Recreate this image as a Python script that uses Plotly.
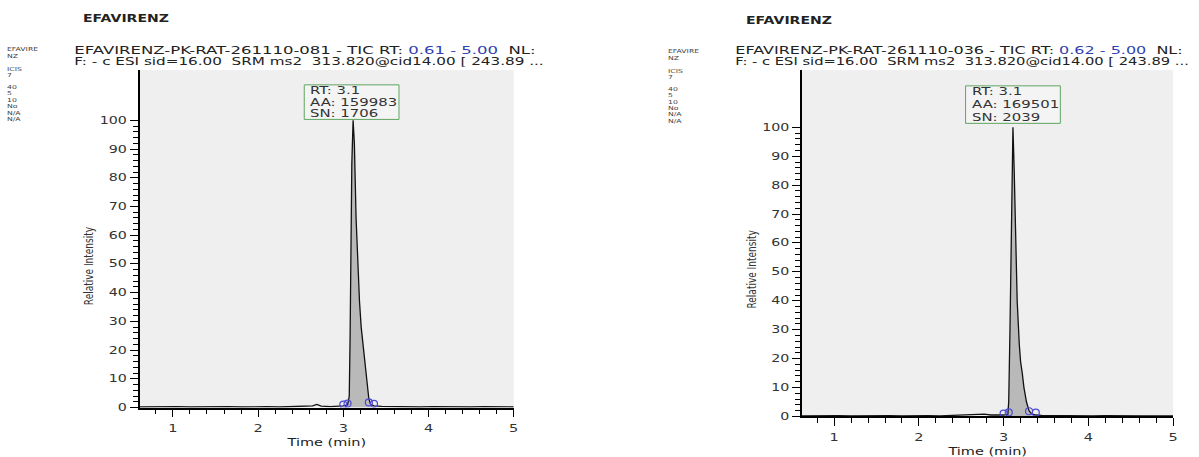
import json
import plotly.graph_objects as go

W, H = 1199, 457

# ---------------- data ----------------
title_text = "EFAVIRENZ"
side_labels = ["EFAVIRE", "NZ", "ICIS", "7", "40", "5", "10", "No", "N/A", "N/A"]

left_header1 = "EFAVIRENZ-PK-RAT-261110-081 - TIC RT: "
left_range_txt = "0.61 - 5.00"
right_header1 = "EFAVIRENZ-PK-RAT-261110-036 - TIC RT: "
right_range_txt = "0.62 - 5.00"
header_tail = "  NL:"
header2 = "F: - c ESI sid=16.00  SRM ms2  313.820@cid14.00 [ 243.89 ..."

left_box = ["RT: 3.1", "AA: 159983", "SN: 1706"]
right_box = ["RT: 3.1", "AA: 169501", "SN: 2039"]

left_time = [0.61, 0.75, 0.90, 1.05, 1.20, 1.35, 1.50, 1.65, 1.80, 1.95, 2.10, 2.25,
             2.40, 2.55, 2.64, 2.69, 2.74, 2.85, 2.95, 3.00, 3.05, 3.07, 3.08, 3.09,
             3.10, 3.115, 3.13, 3.15, 3.17, 3.19, 3.21, 3.24, 3.27, 3.30, 3.32, 3.36,
             3.45, 3.60, 3.75, 3.90, 4.05, 4.20, 4.35, 4.50, 4.65, 4.80, 5.00]
left_int = [0.2, 0.3, 0.2, 0.3, 0.2, 0.3, 0.2, 0.3, 0.2, 0.3, 0.3, 0.2,
            0.3, 0.4, 0.6, 1.1, 0.5, 0.3, 0.4, 0.6, 0.9, 4.0, 25.0, 60.0,
            85.0, 100.0, 92.0, 66.0, 48.0, 37.0, 28.0, 20.0, 11.0, 3.0, 1.2, 0.6,
            0.4, 0.3, 0.3, 0.2, 0.3, 0.2, 0.3, 0.2, 0.3, 0.2, 0.2]
left_peak_start, left_peak_end = 3.05, 3.32
left_marks_t = [3.00, 3.05, 3.30, 3.36]
left_marks_i = [1.0, 1.4, 1.8, 1.3]

right_time = [0.62, 0.75, 0.90, 1.05, 1.20, 1.35, 1.50, 1.65, 1.80, 1.95, 2.10, 2.25,
              2.40, 2.55, 2.70, 2.77, 2.85, 2.95, 3.00, 3.05, 3.06, 3.075, 3.09, 3.11,
              3.125, 3.14, 3.16, 3.185, 3.20, 3.22, 3.24, 3.27, 3.30, 3.33, 3.38,
              3.45, 3.60, 3.75, 3.90, 4.05, 4.20, 4.35, 4.50, 4.65, 4.80, 5.00]
right_int = [0.2, 0.3, 0.2, 0.3, 0.2, 0.3, 0.2, 0.3, 0.2, 0.3, 0.3, 0.2,
             0.3, 0.4, 0.5, 0.8, 0.5, 0.4, 0.5, 0.8, 5.0, 30.0, 70.0, 100.0,
             85.0, 60.0, 40.0, 25.0, 19.0, 15.0, 10.0, 5.0, 2.0, 0.9, 0.5,
             0.4, 0.3, 0.2, 0.3, 0.2, 0.3, 0.2, 0.3, 0.2, 0.2, 0.2]
right_peak_start, right_peak_end = 3.05, 3.33
right_marks_t = [3.00, 3.06, 3.30, 3.38]
right_marks_i = [1.0, 1.4, 1.8, 1.3]

y_ticks = [0, 10, 20, 30, 40, 50, 60, 70, 80, 90, 100]
y_minor = list(range(0, 101, 2))
x_ticks = [1, 2, 3, 4, 5]
x_minor = [round(0.2 * i, 1) for i in range(4, 26)]

# ---------------- figure ----------------
FONT = "DejaVu Sans"
fig = go.Figure()


def px(x):
    return x / W


def py(y):
    return 1 - y / H


def add_panel(t, v, ps, pe, mt, mi, xa, ya):
    seg_t = [a for a in t if ps <= a <= pe]
    seg_v = [b for a, b in zip(t, v) if ps <= a <= pe]
    fig.add_trace(go.Scatter(x=seg_t, y=seg_v, mode="lines", fill="tozeroy",
                             fillcolor="#b9b9b9", line=dict(color="rgba(0,0,0,0)", width=0),
                             xaxis=xa, yaxis=ya, showlegend=False, hoverinfo="skip"))
    fig.add_trace(go.Scatter(x=t, y=v, mode="lines", line=dict(color="#111111", width=1.3),
                             xaxis=xa, yaxis=ya, showlegend=False))
    fig.add_trace(go.Scatter(x=mt, y=mi, mode="markers",
                             marker=dict(symbol="circle-open", size=7, color="#4b4bd6",
                                         line=dict(width=1.2)),
                             xaxis=xa, yaxis=ya, showlegend=False))


add_panel(left_time, left_int, left_peak_start, left_peak_end, left_marks_t, left_marks_i, "x", "y")
add_panel(right_time, right_int, right_peak_start, right_peak_end, right_marks_t, right_marks_i, "x2", "y2")

tickfont = dict(family=FONT, size=10, color="#333")
xcommon = dict(showgrid=False, zeroline=False, showline=True, linecolor="black", linewidth=1.5,
               ticks="outside", ticklen=8, tickwidth=1.3, tickcolor="black",
               tickmode="array", tickvals=x_ticks, tickfont=tickfont, ticklabelstandoff=3,
               minor=dict(tickmode="array", tickvals=x_minor, ticks="outside", ticklen=5,
                          tickwidth=1, tickcolor="black"),
               title=dict(text="Time (min)", font=dict(family=FONT, size=10, color="#222"), standoff=6))
ycommon = dict(showgrid=False, zeroline=False, showline=True, linecolor="black", linewidth=1.5,
               ticks="outside", ticklen=8, tickwidth=1.3, tickcolor="black",
               tickmode="array", tickvals=y_ticks, tickfont=tickfont, ticklabelstandoff=1,
               minor=dict(tickmode="array", tickvals=y_minor, ticks="outside", ticklen=5,
                          tickwidth=1, tickcolor="black"))

fig.update_layout(
    width=W, height=H, margin=dict(l=0, r=0, t=0, b=0),
    paper_bgcolor="white", plot_bgcolor="#efefef",
    xaxis=dict(domain=[px(140), px(515)], range=[0.61, 5.0], anchor="y", **xcommon),
    yaxis=dict(domain=[py(413), py(71)], range=[0, 117.5], anchor="x", **ycommon),
    xaxis2=dict(domain=[px(804), px(1176)], range=[0.62, 5.0], anchor="y2", **xcommon),
    yaxis2=dict(domain=[py(422), py(71)], range=[0, 119.8], anchor="x2", **ycommon),
)

ann = []
stretch = []   # per annotation: [mode, value, anchor]


def text(x, y, s, size, color="#222", bold=False, xanchor="left", angle=0,
         mode="s", val=1.45):
    ann.append(dict(x=px(x), y=py(y), xref="paper", yref="paper", text=s, showarrow=False,
                    xanchor=xanchor, yanchor="middle", textangle=angle, borderpad=0,
                    font=dict(family=FONT, size=size, color=color,
                              weight="bold" if bold else "normal")))
    stretch.append([mode, val, "l" if xanchor == "left" else "c"])


panels = [
    dict(ox=6, tx=82, hx=73, h1=left_header1, rng=left_range_txt, box=left_box,
         bx0=305, bx1=400, by0=86, by1=121, ylx=90, yly=269, dy=0, w1=462, w2=470),
    dict(ox=669, tx=747, hx=736, h1=right_header1, rng=right_range_txt, box=right_box,
         bx0=968, bx1=1063, by0=87, by1=125, ylx=754, yly=273, dy=2, w1=448, w2=454),
]
side_y = [50, 56.5, 70, 76.5, 88, 94.5, 101, 107.5, 114, 120.5]

for p in panels:
    text(p["tx"], 19 + p["dy"], title_text, 10, "#222", bold=True, mode="w", val=86)
    for lab, yy in zip(side_labels, side_y):
        text(p["ox"], yy + p["dy"], lab, 5.5, "#444", mode="s", val=1.4)
    text(p["hx"], 51, p["h1"] + "<span style='color:#3040b0'>" + p["rng"] + "</span>" + header_tail,
         10, "#222", mode="w", val=p["w1"])
    text(p["hx"], 62.5, header2, 10, "#222", mode="w", val=p["w2"])
    fig.add_shape(type="rect", xref="paper", yref="paper", x0=px(p["bx0"]), x1=px(p["bx1"]),
                  y0=py(p["by1"]), y1=py(p["by0"]), line=dict(color="#5fa55f", width=1),
                  fillcolor="rgba(246,246,246,0.7)")
    n = len(p["box"])
    for i, s in enumerate(p["box"]):
        yy = p["by0"] + 6 + i * (p["by1"] - p["by0"] - 12) / (n - 1)
        text(p["bx0"] + 5, yy, s, 10, "#333", mode="s", val=1.49)
    text(p["ylx"], p["yly"], "Relative Intensity", 9, "#333", xanchor="center", angle=-90,
         mode="v", val=1.4)

fig.update_layout(annotations=ann)

# the reference glyphs are horizontally stretched: widen the real SVG text to match
post = """
(function(){
var gd = document.getElementById('{plot_id}');
var CFG = %s;
function baseOf(t){
  var cur = t.getAttribute('transform') || '';
  var mine = t.getAttribute('data-st');
  return (mine !== null && cur === mine) ? (t.getAttribute('data-stb') || '') : cur;
}
function apply(t, s, mode){
  var base = baseOf(t);
  t.setAttribute('transform', base);
  var b = t.getBBox();
  if (!b || b.width === 0) return;
  var tr;
  if (mode === 'v') {
    var ay = b.y + b.height / 2;
    tr = ' translate(0,' + ay + ') scale(1,' + s + ') translate(0,' + (-ay) + ')';
  } else {
    var ax = mode === 'l' ? b.x : (mode === 'r' ? b.x + b.width : b.x + b.width / 2);
    tr = ' translate(' + ax + ',0) scale(' + s + ',1) translate(' + (-ax) + ',0)';
  }
  var nt = (base + tr).trim();
  t.setAttribute('transform', nt);
  t.setAttribute('data-st', nt);
  t.setAttribute('data-stb', base);
}
function run(){
  var anns = gd.querySelectorAll('g.annotation');
  anns.forEach(function(g){
    var i = +g.getAttribute('data-index');
    var c = CFG[i]; if (!c) return;
    var t = g.querySelector('text.annotation-text'); if (!t) return;
    if (c[0] === 'v') { apply(t, c[1], 'v'); return; }
    var s = c[1];
    if (c[0] === 'w') {
      t.setAttribute('transform', baseOf(t));
      t.removeAttribute('data-st');
      var bw = t.getBBox().width;
      s = bw > 0 ? c[1] / bw : 1;
    }
    apply(t, s, c[2]);
  });
  gd.querySelectorAll('g.xtick text').forEach(function(t){ apply(t, 1.45, 'c'); });
  gd.querySelectorAll('g.x2tick text').forEach(function(t){ apply(t, 1.45, 'c'); });
  gd.querySelectorAll('g.ytick text').forEach(function(t){ apply(t, 1.42, 'r'); });
  gd.querySelectorAll('g.y2tick text').forEach(function(t){ apply(t, 1.42, 'r'); });
  gd.querySelectorAll('text.xtitle, text.x2title').forEach(function(t){ apply(t, 1.45, 'c'); });
}
run();
if (gd.on) gd.on('plotly_afterplot', run);
setTimeout(run, 50); setTimeout(run, 300);
})();
""" % json.dumps(stretch)

fig.write_html("out.html", post_script=post)
